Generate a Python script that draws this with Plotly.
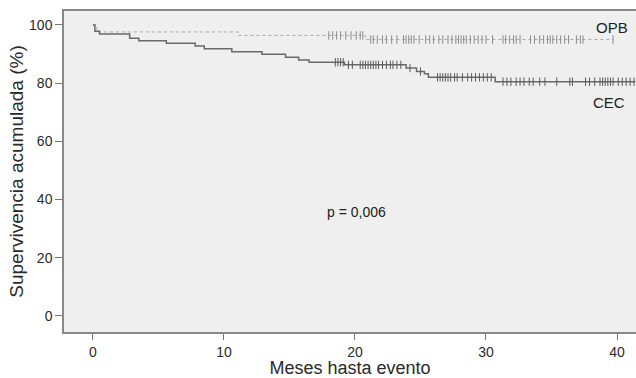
import plotly.graph_objects as go

# Kaplan-Meier step data (months, survival %)
cec_time = [0, 0.15, 0.5, 2.8, 3.5, 5.6, 7.8, 8.5, 10.6, 12.9, 14.7, 15.7, 16.5, 19.2, 23.9, 24.7, 25.3, 25.6, 30.7, 41.4]
cec_surv = [100, 97.8, 96.9, 95.4, 94.6, 93.7, 92.8, 91.8, 90.8, 89.9, 88.9, 88.0, 87.2, 86.3, 85.2, 84.0, 83.2, 82.0, 80.5, 80.5]

opb_time = [0, 0.3, 11.1, 20.8, 39.7]
opb_surv = [100, 97.6, 96.4, 95.0, 95.0]

# censoring times
cec_cens = [18.5, 18.7, 18.9, 19.1, 19.5, 19.8, 20.4, 20.6, 20.8, 21.0, 21.2, 21.4, 21.6, 21.8, 22.1, 22.4, 22.7, 22.9, 23.2, 23.5,
            24.2, 25.0, 26.3, 26.5, 26.7, 26.9, 27.1, 27.3, 27.6, 27.8, 28.2, 28.6, 28.9, 29.2, 29.5, 29.8, 30.1, 30.4,
            31.3, 31.6, 31.9, 32.3, 32.6, 32.9, 33.3, 33.6, 34.1, 34.5, 35.4, 36.4, 36.6, 37.6, 37.9, 38.3, 38.7, 38.9,
            39.1, 39.3, 39.5, 39.7, 40.1, 40.4, 40.7, 41.0, 41.3]
opb_cens = [18.0, 18.3, 18.6, 18.9, 19.3, 19.7, 20.1, 20.4, 20.6,
            21.2, 21.4, 21.7, 22.1, 22.4, 22.8, 23.2, 23.7, 23.9, 24.1, 24.3, 24.5, 24.9, 25.4, 25.7, 26.0, 26.4, 26.7,
            27.1, 27.4, 27.7, 27.9, 28.1, 28.3, 28.5, 28.8, 29.1, 29.4, 29.7, 30.0, 30.5, 31.3, 31.5, 31.8, 32.1, 32.3,
            32.6, 33.4, 33.7, 34.1, 34.4, 34.7, 34.9, 35.1, 35.4, 35.7, 36.0, 36.3, 36.9, 37.2, 37.4, 39.7]

x_ticks = [0, 10, 20, 30, 40]
y_ticks = [0, 20, 40, 60, 80, 100]


def surv_at(times, survs, t):
    s = survs[0]
    for tt, ss in zip(times, survs):
        if tt <= t:
            s = ss
    return s


cec_col = "#6a6a6a"
opb_col = "#a8a8a8"

fig = go.Figure()
fig.add_trace(go.Scatter(x=opb_time, y=opb_surv, mode="lines", line=dict(shape="hv", color=opb_col, width=1, dash="dot"),
                         showlegend=False, hoverinfo="skip"))
fig.add_trace(go.Scatter(x=opb_cens, y=[surv_at(opb_time, opb_surv, t) for t in opb_cens], mode="markers",
                         marker=dict(symbol="line-ns", size=6, line=dict(color="#8a8a8a", width=1)),
                         showlegend=False, hoverinfo="skip"))
fig.add_trace(go.Scatter(x=cec_time, y=cec_surv, mode="lines", line=dict(shape="hv", color=cec_col, width=1.5),
                         showlegend=False, hoverinfo="skip"))
fig.add_trace(go.Scatter(x=cec_cens, y=[surv_at(cec_time, cec_surv, t) for t in cec_cens], mode="markers",
                         marker=dict(symbol="line-ns", size=6, line=dict(color="#5a5a5a", width=1)),
                         showlegend=False, hoverinfo="skip"))

fig.add_annotation(x=39.6, y=99, text="OPB", showarrow=False, font=dict(size=15, color="#222"))
fig.add_annotation(x=39.4, y=73.5, text="CEC", showarrow=False, font=dict(size=15, color="#222"))
fig.add_annotation(x=20.1, y=35.7, text="p = 0,006", showarrow=False, font=dict(size=14, color="#222"))

fig.update_layout(
    width=636, height=378,
    margin=dict(l=64, r=0, t=11, b=46),
    paper_bgcolor="white", plot_bgcolor="#efeff0",
    font=dict(family="Liberation Sans, Arial, sans-serif", size=14, color="#2a2a2a"),
    xaxis=dict(range=[-2.21, 41.45], tickvals=x_ticks, ticks="outside", ticklen=6, tickcolor="#777",
               showgrid=False, zeroline=False, showline=True, linecolor="#888", linewidth=1.5, mirror=True,
               title=dict(text="Meses hasta evento", font=dict(size=18), standoff=0)),
    yaxis=dict(range=[-5.5, 104.8], tickvals=y_ticks, ticks="outside", ticklen=7, tickcolor="#777",
               showgrid=False, zeroline=False, showline=True, linecolor="#888", linewidth=1.5,
               title=dict(text="Supervivencia acumulada (%)", font=dict(size=19), standoff=0)),
)

fig.write_html("out.html", config={"displayModeBar": False},
               post_script="document.body.style.margin='0';document.body.style.overflow='hidden';")
